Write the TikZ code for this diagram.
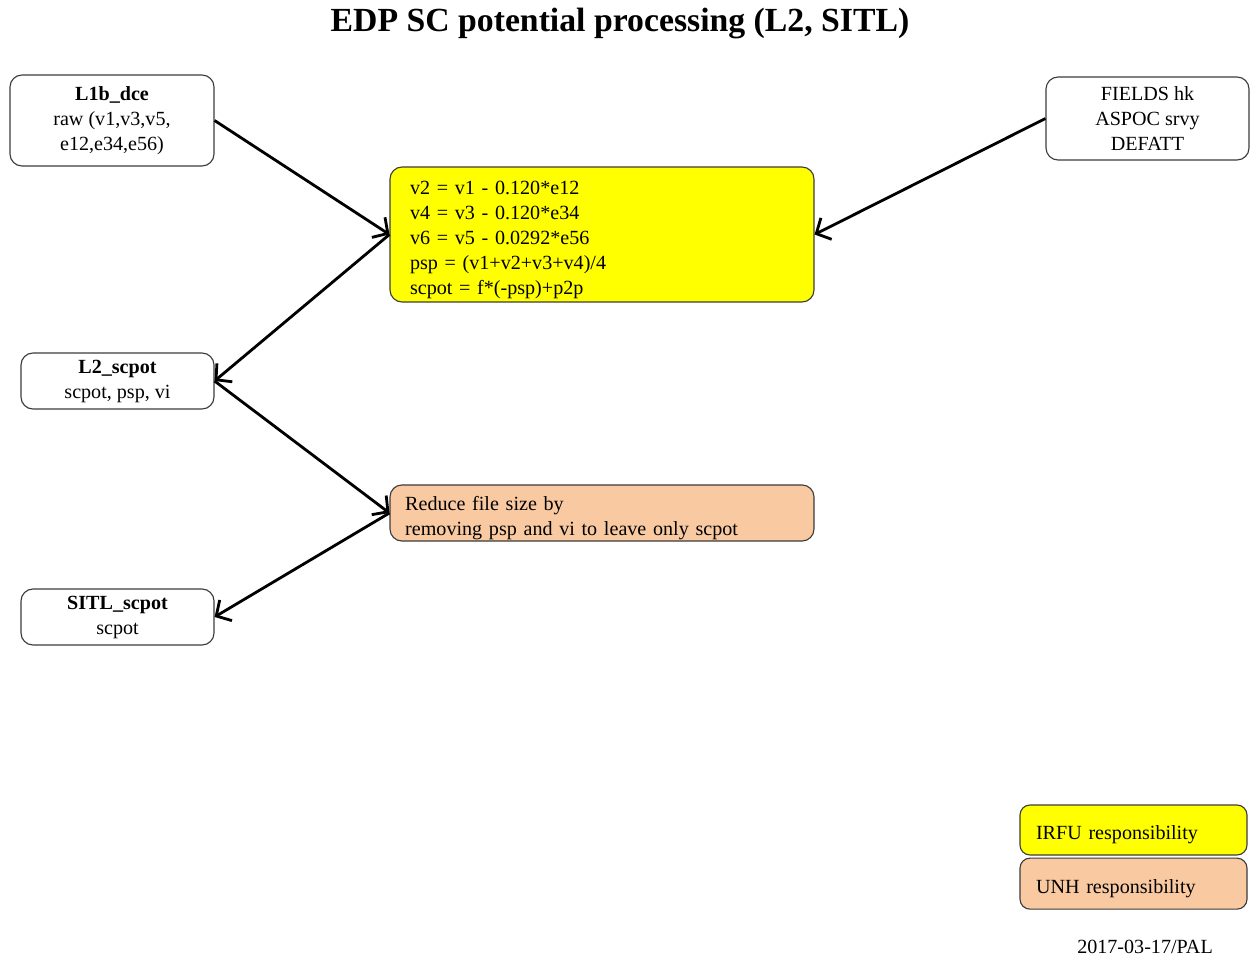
\documentclass[tikz,border=0pt]{standalone}
\usepackage{fontspec}
\setmainfont{Liberation Serif}
\usetikzlibrary{arrows.meta,positioning}
\definecolor{irfuyellow}{RGB}{255,255,0}
\definecolor{unhpeach}{RGB}{249,202,162}
\definecolor{boxline}{RGB}{60,60,60}
\newcommand{\toppad}{\rule{0pt}{17pt}}

\begin{document}
\begin{tikzpicture}[every node/.style={font=\fontsize{14.3}{17.8}\selectfont,align=center},
  databox/.style={draw=boxline,line width=.8pt,rounded corners=3mm,fill=white,execute at begin node=\toppad},
  procbox/.style={draw=boxline,line width=.8pt,rounded corners=3mm,minimum width=10.6cm,inner ysep=1pt,align=left,execute at begin node=\toppad},
  legbox/.style={draw=boxline,line width=.8pt,rounded corners=2.5mm,minimum width=5.675cm,text width=5.675cm-0.8cm,inner xsep=.4cm,inner ysep=1pt,align=left,execute at begin node=\toppad},
  flow/.style={-{Straight Barb[length=2.8mm,width=6mm]},line width=2pt}]
        \useasboundingbox (0,0) rectangle (31.275,-24.025);
        \node[font=\fontsize{24}{28}\selectfont\bfseries] (title) at (15.5,-.6) {EDP SC potential processing (L2, SITL)};
        % data products
        \node[databox,minimum width=5.1cm,minimum height=2.275cm] (l1b) at (2.8,-3.0125) {\textbf{L1b\_dce}\\raw (v1,v3,v5,\\e12,e34,e56)};
        \node[databox,minimum width=5.075cm,minimum height=2.075cm] (aux) at (28.6875,-2.9625) {FIELDS hk\\ASPOC srvy\\DEFATT};
        \node[databox,minimum width=4.825cm,minimum height=1.4cm] (l2) at (2.9375,-9.525) {\textbf{L2\_scpot}\\scpot, psp, vi};
        \node[databox,minimum width=4.825cm,minimum height=1.4cm] (sitl) at (2.9375,-15.425) {\textbf{SITL\_scpot}\\scpot};
        % processing steps
        \node[procbox,fill=irfuyellow,minimum height=3.375cm,text width=10.6cm-1cm,inner xsep=.5cm] (calc) at (15.05,-5.8625) {v2 = v1 - 0.120*e12\\v4 = v3 - 0.120*e34\\v6 = v5 - 0.0292*e56\\psp = (v1+v2+v3+v4)/4\\scpot = f*(-psp)+p2p};
        \node[procbox,fill=unhpeach,minimum height=1.4cm,text width=10.6cm-.76cm,inner xsep=.38cm] (reduce) at (15.05,-12.825) {Reduce file size by\\removing psp and vi to leave only scpot};
        \draw[flow] (l1b.east)--(calc.west);
        \draw[flow] (aux.west)--(calc.east);
        \draw[flow] (calc.west)--(l2.east);
        \draw[flow] (l2.east)--(reduce.west);
        \draw[flow] (reduce.west)--(sitl.east);
        % legend
        \node[legbox,fill=irfuyellow,minimum height=1.25cm] (irfu) at (28.3375,-20.75) {IRFU responsibility};
        \node[legbox,fill=unhpeach,minimum height=1.275cm,below=.05cm of irfu] (unh) {UNH responsibility};
        \node (stamp) at (28.625,-23.67) {2017-03-17/PAL};
      \end{tikzpicture}
\end{document}
